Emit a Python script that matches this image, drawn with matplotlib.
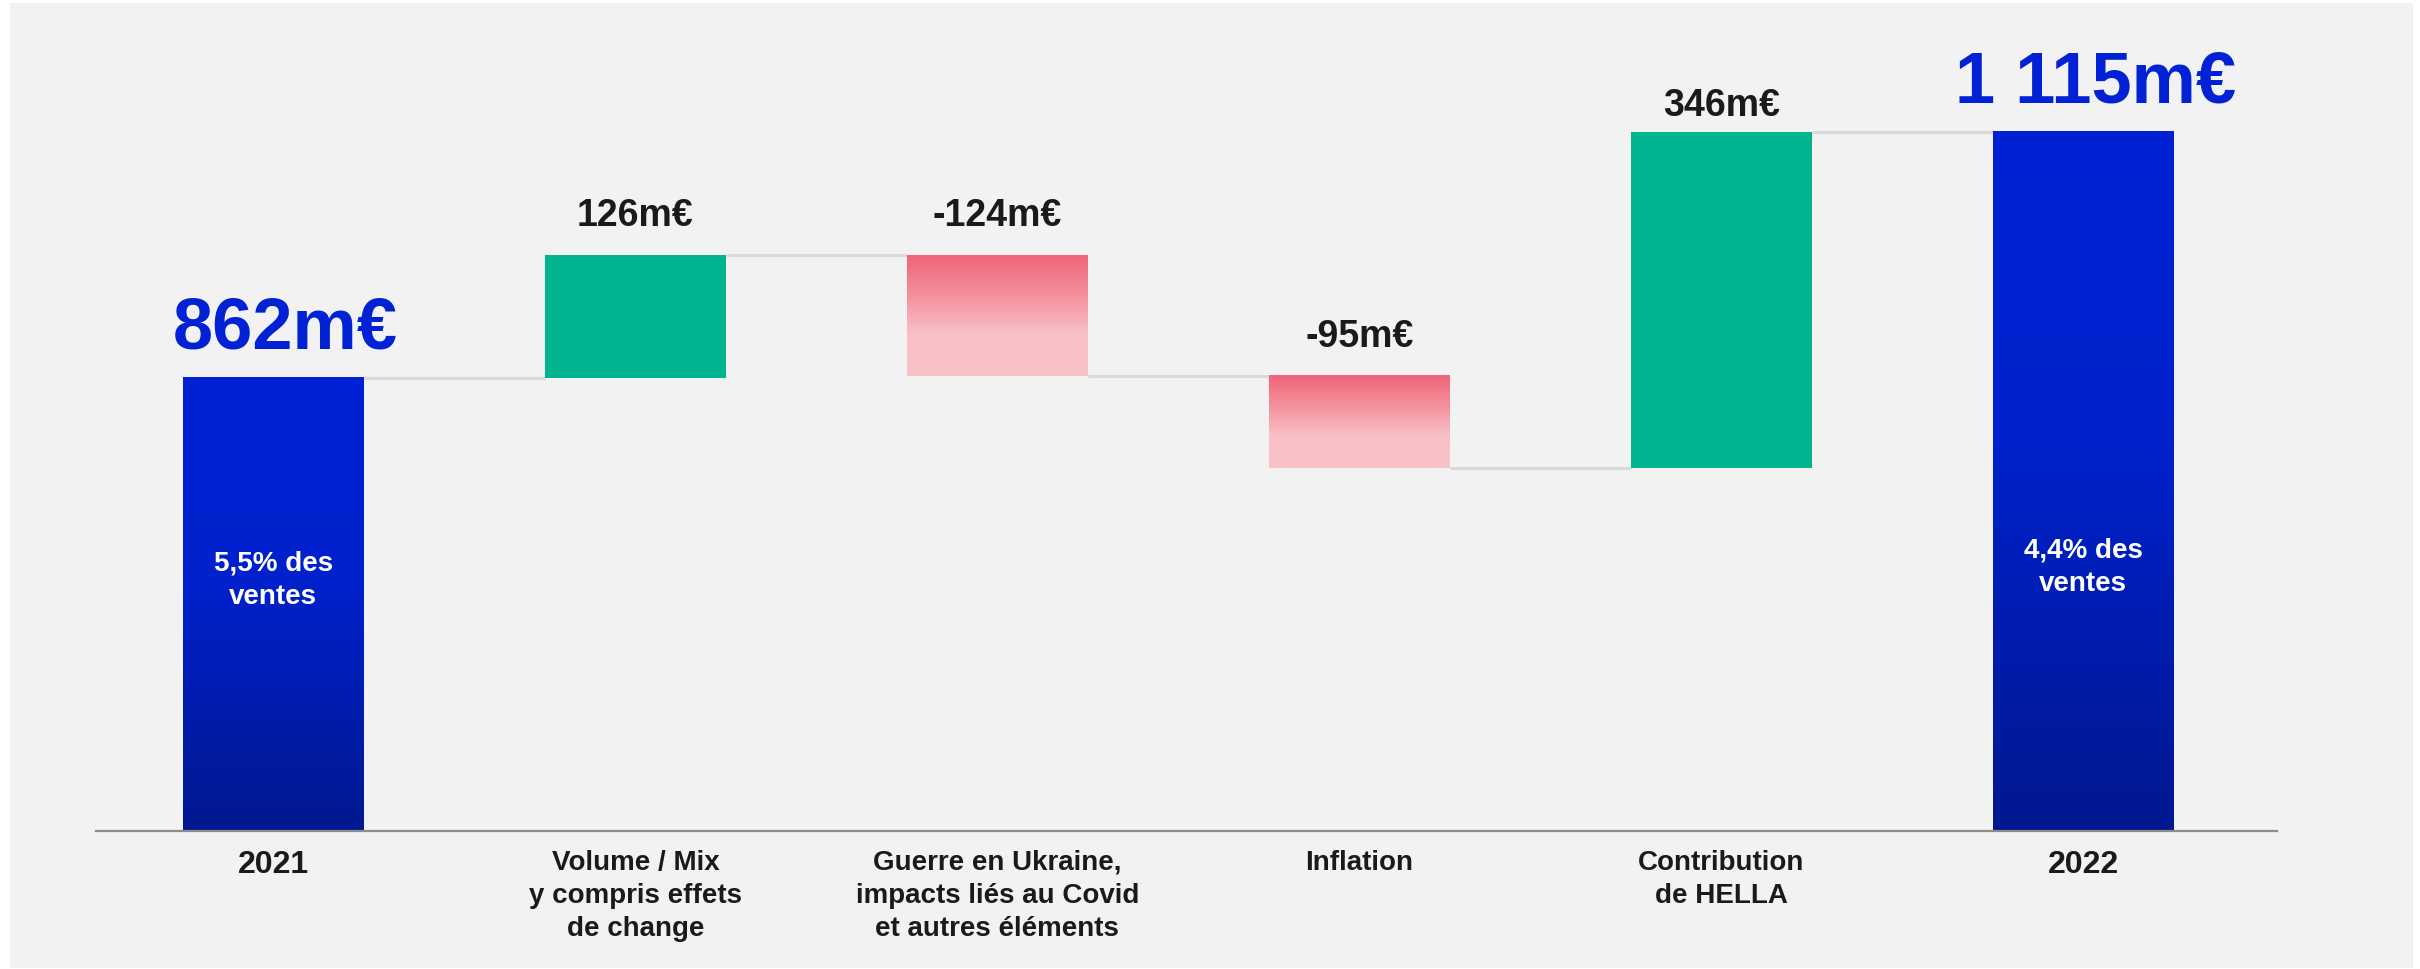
import matplotlib
matplotlib.use("Agg")
import matplotlib.pyplot as plt
import numpy as np
from matplotlib.colors import LinearSegmentedColormap
from matplotlib.patches import Rectangle

# ---------------- data ----------------
categories = [
    "2021",
    "Volume / Mix\ny compris effets\nde change",
    "Guerre en Ukraine,\nimpacts liés au Covid\net autres éléments",
    "Inflation",
    "Contribution\nde HELLA",
    "2022",
]
start_value = 862
deltas = [126, -124, -95, 346]
end_value = 1115
value_labels = ["862m€", "126m€", "-124m€", "-95m€", "346m€", "1 115m€"]
inner_labels = ["5,5% des\nventes", None, None, None, None, "4,4% des\nventes"]

# ---------------- style ----------------
plt.rcParams["font.family"] = ["Liberation Sans", "DejaVu Sans"]
plt.rcParams["font.weight"] = "bold"
BG = "#f2f2f2"
GREEN = "#00b48f"
BLUE_TOP = "#0022d4"
TXT = "#1a1a1a"
blue_cmap = LinearSegmentedColormap.from_list(
    "blue", [(0, "#0022d4"), (0.45, "#0021cc"), (1.0, "#00188f")])
red_cmap = LinearSegmentedColormap.from_list(
    "red", [(0, "#f06479"), (0.35, "#f4939f"), (0.65, "#f8c0c6"), (1.0, "#f8c3c8")])

W, H = 2420, 970
fig = plt.figure(figsize=(W / 100, H / 100), dpi=100, facecolor="white")
fig.patches.append(Rectangle((10 / W, 1 / H), (2413 - 10) / W, (966 - 1) / H,
                             transform=fig.transFigure, facecolor=BG,
                             edgecolor="none", zorder=-10))

ax = fig.add_axes([96 / W, 138 / H, 2181 / W, 802 / H])
ax.set_facecolor("none")
y_floor = 396
y_top = 1220.8
bar_w = 0.5

# geometry from data
n = len(categories)
bottoms, tops, kinds = [], [], []
cum = start_value
bottoms.append(y_floor); tops.append(start_value); kinds.append("total")
levels = [start_value]
for d in deltas:
    lo, hi = min(cum, cum + d), max(cum, cum + d)
    bottoms.append(lo); tops.append(hi)
    kinds.append("up" if d > 0 else "down")
    cum += d
    levels.append(cum)
bottoms.append(y_floor); tops.append(end_value); kinds.append("total")

grad = np.linspace(0, 1, 256).reshape(-1, 1)
for i in range(n):
    x0, x1 = i - bar_w / 2, i + bar_w / 2
    if kinds[i] == "up":
        ax.bar(i, tops[i] - bottoms[i], bottom=bottoms[i], width=bar_w,
               color=GREEN, zorder=2)
    else:
        cmap = blue_cmap if kinds[i] == "total" else red_cmap
        ax.imshow(grad, extent=(x0, x1, bottoms[i], tops[i]), aspect="auto",
                  cmap=cmap, origin="upper", zorder=2, interpolation="bilinear")

# connectors
for i in range(n - 1):
    ax.plot([i + bar_w / 2, i + 1 - bar_w / 2], [levels[i], levels[i]],
            color="#d9d9d9", lw=2.2, zorder=1, solid_capstyle="butt")

ax.set_xlim(-0.49, 5.535)
ax.set_ylim(y_floor, y_top)

# value labels
for i in range(n):
    big = kinds[i] == "total"
    gap_px = 17 if i == 4 else 30
    dx_px = 12 if big else 0
    ax.annotate(value_labels[i], xy=(i, tops[i]),
                xytext=(dx_px * 0.72, gap_px * 0.72), textcoords="offset points",
                ha="center", va="baseline",
                fontsize=52 if big else 27, fontweight="bold",
                color=BLUE_TOP if big else TXT, zorder=5)

# inner labels
inner_y = [0.314, None, None, None, None, 0.330]
for i, lab in enumerate(inner_labels):
    if lab:
        ax.text(i, inner_y[i], lab, transform=ax.get_xaxis_transform(),
                ha="center", va="center", color="white", fontsize=20,
                fontweight="bold", linespacing=1.38, zorder=5)

# category labels
for i, lab in enumerate(categories):
    is_year = i in (0, n - 1)
    ax.text(i, -0.0224, lab, transform=ax.get_xaxis_transform(),
            ha="center", va="top", color=TXT,
            fontsize=23 if is_year else 20, fontweight="bold",
            linespacing=1.36)

for s in ["top", "right", "left"]:
    ax.spines[s].set_visible(False)
ax.spines["bottom"].set_color("#8c8c8c")
ax.spines["bottom"].set_linewidth(1.6)
ax.spines["bottom"].set_zorder(6)
ax.set_xticks([])
ax.set_yticks([])

fig.savefig("out.png", dpi=100, facecolor="white")
